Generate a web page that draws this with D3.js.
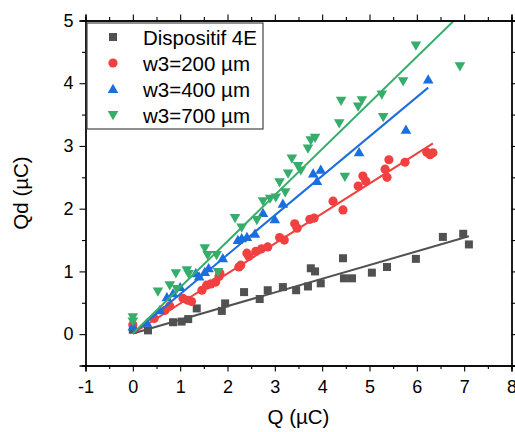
<!DOCTYPE html>
<html><head><meta charset="utf-8">
<script src="https://cdn.jsdelivr.net/npm/d3@7"></script>
<style>body{margin:0;background:#fff}svg{display:block}text{font-family:"Liberation Sans",Arial,sans-serif;fill:#000}</style>
</head><body><svg id="c" width="515" height="432"></svg>
<script>
const seriesNames = ["Dispositif 4E","w3=200 µm","w3=400 µm","w3=700 µm"];
const seriesColors = ["#515151","#F14040","#1A6FDF","#37AD6B"];
const seriesShapes = ["square","circle","triangle","triangleDown"];
const blackQ  = [0,0.32,0.85,1.03,1.17,1.35,1.88,1.95,2.35,2.68,2.85,3.17,3.45,3.7,3.76,3.85,3.97,4.44,4.46,4.63,5.05,5.37,5.98,6.55,6.98,7.1];
const blackQd = [0.07,0.06,0.19,0.2,0.24,0.41,0.37,0.49,0.67,0.56,0.7,0.75,0.7,0.76,1.05,1.0,0.81,1.21,0.89,0.89,0.98,1.07,1.2,1.55,1.6,1.43];
const redQ  = [0,0.45,0.68,0.78,1.06,1.16,1.24,1.46,1.56,1.65,1.75,1.82,1.84,2.24,2.28,2.41,2.45,2.6,2.72,2.85,3.1,3.2,3.42,3.47,3.74,3.83,4.23,4.44,4.76,4.86,4.92,5.33,5.37,5.41,5.75,6.21,6.28,6.34];
const redQd = [0.15,0.25,0.38,0.45,0.57,0.54,0.52,0.7,0.78,0.8,0.83,0.92,0.97,1.07,1.1,1.29,1.24,1.32,1.36,1.39,1.54,1.5,1.76,1.69,1.83,1.85,2.12,1.98,2.36,2.52,2.44,2.63,2.5,2.78,2.74,2.9,2.86,2.89];
const blueQ  = [0,0.3,0.57,0.72,0.85,1.0,1.33,1.4,1.52,1.6,1.9,2.22,2.3,2.41,2.58,2.75,3.0,3.17,3.81,3.89,3.97,4.78,5.77,6.24];
const blueQd = [0.12,0.18,0.38,0.59,0.65,0.75,0.97,0.92,0.99,1.05,1.21,1.5,1.53,1.55,1.6,1.93,1.83,2.08,2.56,2.44,2.62,2.9,3.26,4.06];
const greenQ  = [0,0,0.53,0.78,0.93,0.91,1.14,1.18,1.52,1.58,1.77,1.8,2.16,2.3,2.62,2.75,2.9,3.02,3.1,3.22,3.28,3.36,3.49,3.55,3.7,3.76,3.85,4.36,4.4,4.48,4.76,4.84,5.26,5.29,5.71,5.98,6.91];
const greenQd = [0.27,0.2,0.68,0.78,0.72,0.97,1.02,0.96,1.37,1.26,1.26,0.99,1.85,1.7,1.82,2.12,2.16,2.18,2.42,2.26,2.56,2.8,2.68,2.61,2.96,3.09,3.13,3.36,3.72,2.51,3.63,3.73,3.82,3.46,4.03,4.6,4.27];
// linear fit lines: start (Q, Qd) and end (Q, Qd)
const fitStartQ  = [0,0,0,0];
const fitStartQd = [0.01,0.01,0.01,0.01];
const fitEndQ    = [7.1,6.34,6.24,6.91];
const fitEndQd   = [1.56,3.04,3.93,5.09];
const xTicks = [-1,0,1,2,3,4,5,6,7,8];
const yTicks = [0,1,2,3,4,5];
const xTitle = "Q (µC)", yTitle = "Qd (µC)";

const svg = d3.select("#c");
const L=85.5,R=511.5,T=20.5,B=365.5;
const x = d3.scaleLinear().domain([-1,8]).range([L,R]);
const y = d3.scaleLinear().domain([-0.5,5]).range([B,T]);
const xs=[blackQ,redQ,blueQ,greenQ], ys=[blackQd,redQd,blueQd,greenQd];

svg.append("defs").append("clipPath").attr("id","clip").append("rect")
  .attr("x",L).attr("y",T).attr("width",R-L).attr("height",B-T);

function marker(g, shape, cx, cy, color){
  if(shape==="square") g.append("rect").attr("x",cx-4).attr("y",cy-4).attr("width",8).attr("height",8).attr("fill",color);
  else if(shape==="circle") g.append("circle").attr("cx",cx).attr("cy",cy).attr("r",4.6).attr("fill",color);
  else if(shape==="triangle") g.append("path").attr("d",`M${cx},${cy-5.2}L${cx+5.3},${cy+4}L${cx-5.3},${cy+4}Z`).attr("fill",color);
  else g.append("path").attr("d",`M${cx},${cy+5.2}L${cx+5.3},${cy-4}L${cx-5.3},${cy-4}Z`).attr("fill",color);
}

const plot = svg.append("g").attr("clip-path","url(#clip)");
for(let s=0;s<4;s++){
  const g = plot.append("g");
  xs[s].forEach((q,i)=>marker(g, seriesShapes[s], x(q), y(ys[s][i]), seriesColors[s]));
  const line = d3.line().x(d=>x(d[0])).y(d=>y(d[1]));
  plot.append("path").attr("d", line([[fitStartQ[s],fitStartQd[s]],[fitEndQ[s],fitEndQd[s]]]))
    .attr("stroke",seriesColors[s]).attr("stroke-width",2).attr("fill","none");
}

// axes
const fmt = d=>d<0?"-"+Math.abs(d):String(d);
const xb = svg.append("g").attr("transform",`translate(0,${B})`)
  .call(d3.axisBottom(x).tickValues(xTicks).tickFormat(fmt).tickSize(6).tickPadding(4));
const xbm = svg.append("g").attr("transform",`translate(0,${B})`)
  .call(d3.axisBottom(x).tickValues(d3.range(-0.5,8,1)).tickFormat("").tickSize(3.5));
const xt = svg.append("g").attr("transform",`translate(0,${T})`)
  .call(d3.axisTop(x).tickValues(xTicks).tickFormat("").tickSize(6));
const xtm = svg.append("g").attr("transform",`translate(0,${T})`)
  .call(d3.axisTop(x).tickValues(d3.range(-0.5,8,1)).tickFormat("").tickSize(3.5));
const yl = svg.append("g").attr("transform",`translate(${L},0)`)
  .call(d3.axisLeft(y).tickValues(yTicks).tickFormat(fmt).tickSize(6).tickPadding(6));
const ylm = svg.append("g").attr("transform",`translate(${L},0)`)
  .call(d3.axisLeft(y).tickValues(d3.range(-0.5,5,1)).tickFormat("").tickSize(3.5));
const yr = svg.append("g").attr("transform",`translate(${R},0)`)
  .call(d3.axisRight(y).tickValues(yTicks).tickFormat("").tickSize(6));
const yrm = svg.append("g").attr("transform",`translate(${R},0)`)
  .call(d3.axisRight(y).tickValues(d3.range(-0.5,5,1)).tickFormat("").tickSize(3.5));
[xb,xbm,xt,xtm,yl,ylm,yr,yrm].forEach(a=>{
  a.selectAll("path.domain").attr("stroke","#000").attr("stroke-width",1.3);
  a.selectAll(".tick line").attr("stroke","#000").attr("stroke-width",1.1);
  a.selectAll("text").attr("font-size",18).attr("font-family","Liberation Sans, Arial, sans-serif").attr("fill","#000");
});
xb.selectAll("text").attr("dy","0.95em");

svg.append("text").attr("x",(L+R)/2).attr("y",424).attr("text-anchor","middle").attr("font-size",20.5).text(xTitle);
svg.append("text").attr("transform",`translate(28,${(T+B)/2}) rotate(-90)`).attr("text-anchor","middle").attr("font-size",20.5).text(yTitle);

// legend
const lg = svg.append("g");
lg.append("rect").attr("x",87).attr("y",23).attr("width",176).attr("height",106)
  .attr("fill","#fff").attr("stroke","#444").attr("stroke-width",1.2);
seriesNames.forEach((n,i)=>{
  const cy = 37 + i*26;
  marker(lg, seriesShapes[i], 113, cy, seriesColors[i]);
  lg.append("text").attr("x",143).attr("y",cy+7.5).attr("font-size",20.5).text(n);
});
</script></body></html>
